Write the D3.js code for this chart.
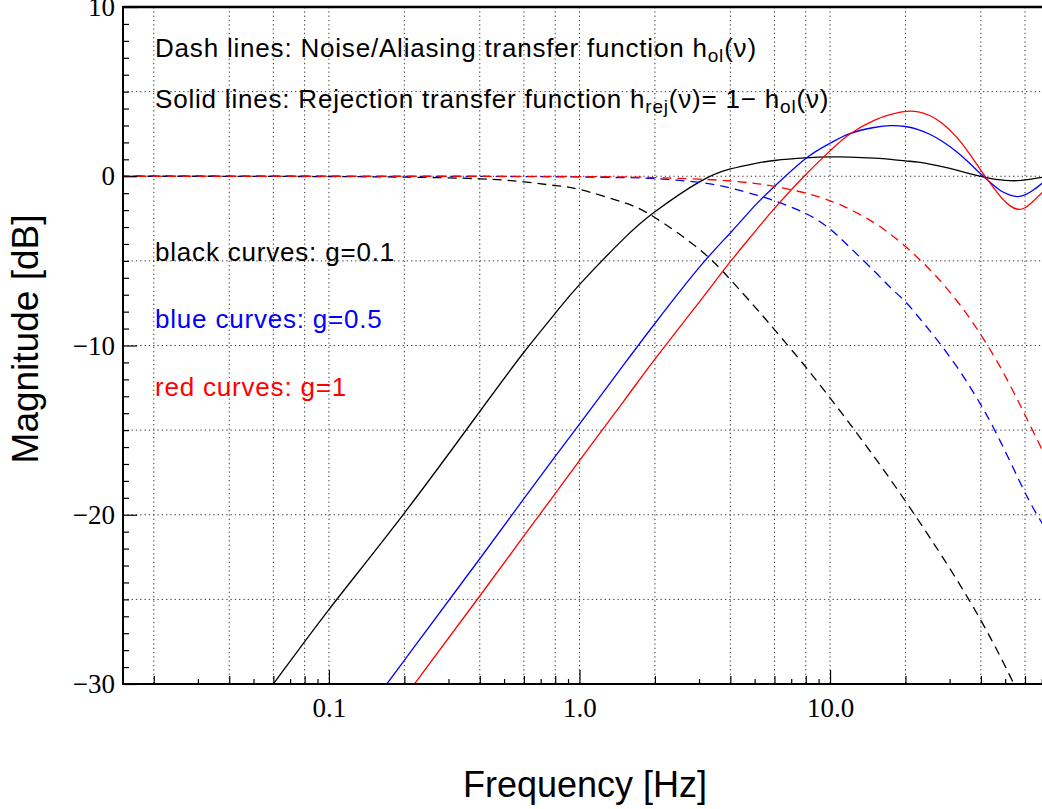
<!DOCTYPE html>
<html>
<head>
<meta charset="utf-8">
<script src="https://d3js.org/d3.v7.min.js"></script>
<style>
  html, body { margin: 0; padding: 0; background: #fff; }
  svg { display: block; }
</style>
</head>
<body>
<svg id="chart" width="1042" height="809"></svg>
<script>
// ---------------- data ----------------
const freqs  = [0.015, 0.03, 0.06, 0.1, 0.2, 0.4, 0.6, 0.8, 1, 1.5, 2, 3, 4, 5, 6, 8, 10, 12, 15, 17.5, 20, 22.5, 25, 28, 32, 36, 40, 44, 48, 52, 56, 60, 65, 72];

// g = 0.1 (black)
const rejG01 = [-42.0, -36.0, -30.0, -25.6, -19.9, -13.9, -10.4, -8.1, -6.4, -3.7, -2.1, -0.35, 0.43, 0.75, 0.93, 1.08, 1.14, 1.13, 1.07, 1.0, 0.91, 0.83, 0.72, 0.57, 0.36, 0.16, -0.01, -0.14, -0.22, -0.26, -0.26, -0.22, -0.14, -0.04];
const olG01  = [0, 0, -0.01, -0.02, -0.05, -0.15, -0.33, -0.55, -0.78, -1.55, -2.44, -4.3, -6.1, -7.7, -9.06, -11.27, -13.1, -14.63, -16.57, -17.96, -19.2, -20.32, -21.34, -22.46, -23.82, -25.07, -26.24, -27.36, -28.43, -29.46, -30.44, -31.37, -32.47, -33.89];

// g = 0.5 (blue)
const rejG05 = [-51.1, -45.1, -39.0, -34.6, -28.6, -22.6, -19.05, -16.55, -14.65, -11.15, -8.7, -5.4, -3.35, -1.75, -0.6, 1.05, 1.95, 2.52, 2.88, 2.99, 2.94, 2.76, 2.48, 2.07, 1.45, 0.78, 0.13, -0.42, -0.86, -1.1, -1.2, -1.1, -0.8, -0.28];
const olG05  = [0, 0, 0, 0, -0.01, -0.01, -0.02, -0.03, -0.04, -0.08, -0.14, -0.36, -0.69, -1.08, -1.45, -2.2, -3.12, -4.2, -5.6, -6.6, -7.42, -8.3, -9.12, -10.05, -11.24, -12.39, -13.51, -14.61, -15.71, -16.77, -17.77, -18.69, -19.66, -20.77];

// g = 1 (red)
const rejG1  = [-53.3, -47.3, -41.2, -36.8, -30.8, -24.8, -21.25, -18.75, -16.8, -13.3, -10.8, -7.45, -5.05, -3.3, -1.9, 0.1, 1.5, 2.5, 3.3, 3.65, 3.83, 3.81, 3.59, 3.13, 2.31, 1.33, 0.35, -0.5, -1.22, -1.72, -1.95, -1.86, -1.45, -0.8];
const olG1   = [0, 0, 0, 0, 0, 0, -0.01, -0.01, -0.02, -0.04, -0.08, -0.17, -0.28, -0.42, -0.6, -1.0, -1.45, -1.95, -2.75, -3.45, -4.15, -4.85, -5.51, -6.3, -7.34, -8.36, -9.37, -10.36, -11.32, -12.28, -13.21, -14.11, -15.15, -16.48];

const yTickValues = [10, 0, -10, -20, -30];
const yTickText   = ["10", "0", "\u221210", "\u221220", "\u221230"];
const yGridValues = [5, 0, -5, -10, -15, -20, -25];
const xTickValues = [0.1, 1, 10];
const xTickText   = ["0.1", "1.0", "10.0"];
const xGridValues = [0.02, 0.04, 0.06, 0.08, 0.1, 0.2, 0.4, 0.6, 0.8, 1, 2, 4, 6, 8, 10, 20, 40, 60];
const xMidTicks   = [0.02, 0.04, 0.06, 0.08, 0.2, 0.4, 0.6, 0.8, 2, 4, 6, 8, 20, 40, 60];
const xMinorTicks = [0.03, 0.05, 0.07, 0.09, 0.3, 0.5, 0.7, 0.9, 3, 5, 7, 9, 30, 50, 70];

const seriesList = [
  { name: "rej g=0.1", values: rejG01, color: "#000000", dashed: false },
  { name: "ol g=0.1",  values: olG01,  color: "#000000", dashed: true, offset: 5 },
  { name: "rej g=0.5", values: rejG05, color: "#0000ff", dashed: false },
  { name: "ol g=0.5",  values: olG05,  color: "#0000ff", dashed: true, offset: 2 },
  { name: "rej g=1",   values: rejG1,  color: "#ff0000", dashed: false },
  { name: "ol g=1",    values: olG1,   color: "#ff0000", dashed: true, offset: 0 }
];

// ---------------- layout ----------------
const L = 123, T = 7, B = 684, R = 1045;
const svg = d3.select("#chart");
svg.append("rect").attr("width", 1042).attr("height", 809).attr("fill", "#fff");

const x = d3.scaleLog().domain([0.01507, 72.1]).range([L, R]);
const y = d3.scaleLinear().domain([-30, 10]).range([B, T]);

const SANS = "'Liberation Sans', Arial, Helvetica, sans-serif";
const SERIF = "'Liberation Serif', 'Times New Roman', serif";

// grid
const grid = svg.append("g");
grid.selectAll("line.vg").data(xGridValues).enter().append("line")
  .attr("x1", d => x(d)).attr("x2", d => x(d)).attr("y1", T).attr("y2", B)
  .attr("stroke", "#333").attr("stroke-width", 1).attr("stroke-dasharray", "1.3,3");
grid.selectAll("line.hg").data(yGridValues).enter().append("line")
  .attr("x1", L).attr("x2", R).attr("y1", d => y(d)).attr("y2", d => y(d))
  .attr("stroke", "#333").attr("stroke-width", 1).attr("stroke-dasharray", "1.3,3");

// clip
svg.append("clipPath").attr("id", "plotclip").append("rect")
  .attr("x", L).attr("y", T).attr("width", R - L).attr("height", B - T);

// curves
const line = d3.line()
  .x((d, i) => x(freqs[i]))
  .y(d => y(d))
  .curve(d3.curveNatural);

const curves = svg.append("g").attr("clip-path", "url(#plotclip)");
seriesList.forEach(s => {
  curves.append("path")
    .attr("d", line(s.values))
    .attr("fill", "none")
    .attr("stroke", s.color)
    .attr("stroke-width", 1.3)
    .attr("stroke-dasharray", s.dashed ? "9,6" : null)
    .attr("stroke-dashoffset", s.dashed ? s.offset : null);
});

// axes (ticks inside the frame)
function styleAxis(g) {
  g.select(".domain").remove();
  g.selectAll(".tick line").attr("stroke", "#000").attr("stroke-width", 1.2);
}
svg.append("g").attr("transform", `translate(0,${B})`)
  .call(d3.axisBottom(x).tickValues(xMinorTicks).tickSize(-5).tickFormat(""))
  .call(styleAxis);
svg.append("g").attr("transform", `translate(0,${B})`)
  .call(d3.axisBottom(x).tickValues(xMidTicks).tickSize(-8).tickFormat(""))
  .call(styleAxis);
const xAx = svg.append("g").attr("transform", `translate(0,${B})`)
  .call(d3.axisBottom(x).tickValues(xTickValues).tickSize(-14).tickPadding(14)
        .tickFormat((d, i) => xTickText[i]))
  .call(styleAxis);
xAx.selectAll("text").attr("font-family", SERIF).attr("font-size", 27).attr("fill", "#000");

const yMinor = d3.range(-30, 11, 1).filter(v => v % 10 !== 0);
svg.append("g").attr("transform", `translate(${L},0)`)
  .call(d3.axisLeft(y).tickValues(yMinor).tickSize(-6).tickFormat(""))
  .call(styleAxis);
const yAx = svg.append("g").attr("transform", `translate(${L},0)`)
  .call(d3.axisLeft(y).tickValues(yTickValues).tickSize(-14).tickPadding(8)
        .tickFormat((d, i) => yTickText[i]))
  .call(styleAxis);
yAx.selectAll("text").attr("font-family", SERIF).attr("font-size", 27).attr("fill", "#000");

// frame
const frame = svg.append("g").attr("stroke", "#000").attr("fill", "none");
frame.append("line").attr("x1", L).attr("x2", 1042).attr("y1", T).attr("y2", T).attr("stroke-width", 2.5);
frame.append("line").attr("x1", L).attr("x2", 1042).attr("y1", B).attr("y2", B).attr("stroke-width", 2);
frame.append("line").attr("x1", L).attr("x2", L).attr("y1", T - 1).attr("y2", B + 1).attr("stroke-width", 2);

// annotation text
function richText(xp, yp, parts, color) {
  const t = svg.append("text").attr("x", xp).attr("y", yp)
    .attr("font-family", SANS).attr("font-size", 26).attr("fill", color || "#000")
    .attr("letter-spacing", "0.8px");
  parts.forEach(p => {
    const ts = t.append("tspan").text(p[0]);
    if (p[1] === "sub") ts.attr("font-size", 19).attr("dy", 5);
    if (p[1] === "up") ts.attr("dy", -5);
  });
  return t;
}
richText(155, 57, [["Dash lines: Noise/Aliasing transfer function h"], ["ol", "sub"], ["(\u03bd)", "up"]]);
richText(155, 108, [["Solid lines: Rejection transfer function h"], ["rej", "sub"], ["(\u03bd)= 1\u2212 h", "up"], ["ol", "sub"], ["(\u03bd)", "up"]]);
richText(155, 261, [["black curves: g=0.1"]], "#000");
richText(155, 328, [["blue curves: g=0.5"]], "#0000ff");
richText(155, 396, [["red curves: g=1"]], "#ff0000");

// axis titles
svg.append("text").attr("x", 585).attr("y", 797).attr("text-anchor", "middle")
  .attr("font-family", SANS).attr("font-size", 36).attr("fill", "#000").text("Frequency [Hz]");
svg.append("text").attr("transform", "translate(38,339) rotate(-90)").attr("text-anchor", "middle")
  .attr("font-family", SANS).attr("font-size", 37).attr("fill", "#000").text("Magnitude [dB]");
</script>
</body>
</html>
